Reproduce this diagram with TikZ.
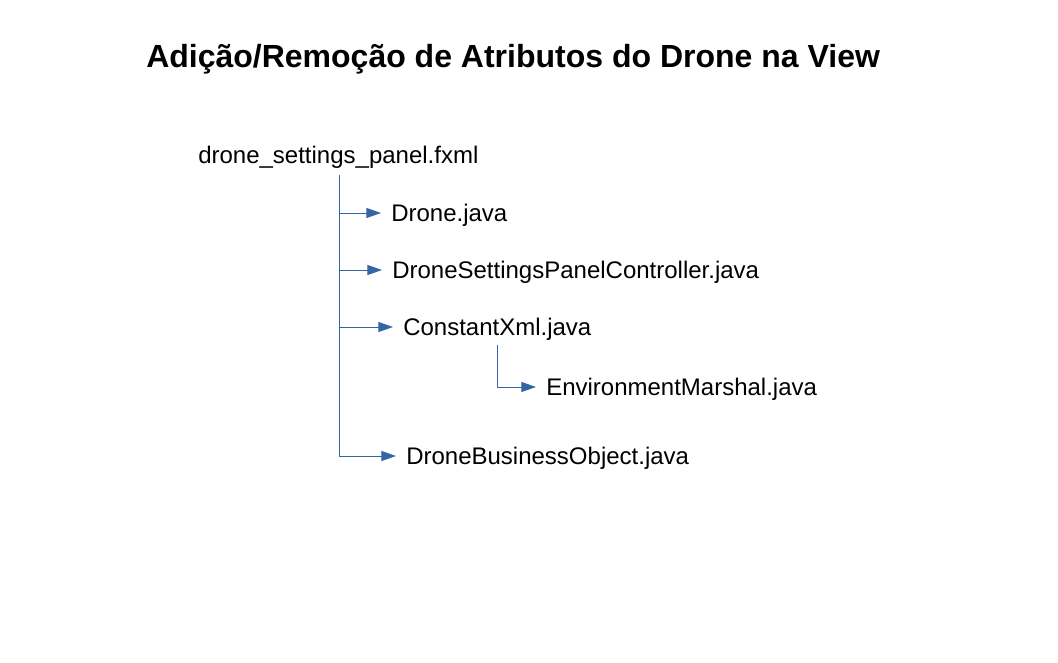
\documentclass[tikz,border=0pt]{standalone}
\usepackage{fontspec}
\setmainfont{Liberation Sans}
\usetikzlibrary{arrows.meta}
\definecolor{lineblue}{HTML}{3465A4}
\begin{document}
\begin{tikzpicture}[x=0.75pt,y=-0.75pt,
  file/.style={anchor=base west,inner sep=0pt,font=\fontsize{18}{21}\selectfont},
  wire/.style={draw=lineblue,line width=0.75pt},
  link/.style={wire,-{Triangle[length=11pt,width=7.5pt]},shorten >=7.5pt}]
\useasboundingbox (0,0) rectangle (1058,662);
\node[anchor=base west,inner sep=0pt,font=\bfseries\fontsize{24}{28}\selectfont] (title) at (146,67) {Adição/Remoção de Atributos do Drone na View};
\node[file] (root) at (198,163) {drone\_settings\_panel.fxml};
\node[file] (drone) at (391,221.5) {Drone.java};
\node[file] (ctrl) at (392,278.5) {DroneSettingsPanelController.java};
\node[file] (cxml) at (403,335.5) {ConstantXml.java};
\node[file] (env) at (546,395.5) {EnvironmentMarshal.java};
\node[file] (dbo) at (406,464) {DroneBusinessObject.java};
\coordinate (top) at (339,175);
\coordinate (j1) at (339,213);
\coordinate (j2) at (339,270);
\coordinate (j3) at (339,327);
\coordinate (j4) at (339,456);
\coordinate (stop) at (497,345);
\coordinate (sj) at (497,387);
\draw[wire] (top) -- (j4);
\draw[link] (j1) -- (j1 -| drone.west);
\draw[link] (j2) -- (j2 -| ctrl.west);
\draw[link] (j3) -- (j3 -| cxml.west);
\draw[link] (j4) -- (j4 -| dbo.west);
\draw[wire] (stop) -- (sj);
\draw[link] (sj) -- (sj -| env.west);
\end{tikzpicture}
\end{document}
